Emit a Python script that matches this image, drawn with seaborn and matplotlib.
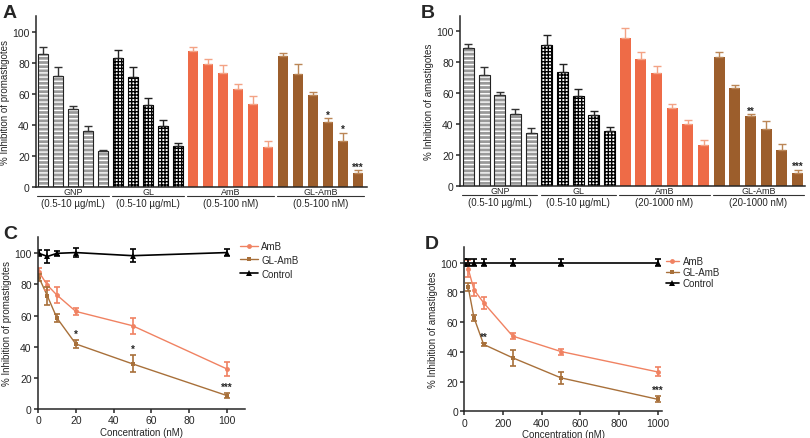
import numpy as np
import pandas as pd
import matplotlib
matplotlib.use("Agg")
import matplotlib.pyplot as plt
import matplotlib.transforms as mtransforms
import seaborn as sns

# ---- data: bar panels (A = promastigotes, B = amastigotes) ----
groups = ["GNP", "GL", "AmB", "GL-AmB"]
range_a = ["(0.5-10 µg/mL)", "(0.5-10 µg/mL)", "(0.5-100 nM)", "(0.5-100 nM)"]
range_b = ["(0.5-10 µg/mL)", "(0.5-10 µg/mL)", "(20-1000 nM)", "(20-1000 nM)"]

gnp_a = [85.5, 71.5, 50, 36, 23]
gnp_a_err = [4.5, 5.5, 2, 3, 0.6]
gl_a = [83, 71, 53, 39, 26.5]
gl_a_err = [5, 6, 4, 4.4, 2]
amb_a = [87.5, 79, 73.3, 63, 53.5, 25.8]
amb_a_err = [2.6, 3.5, 5, 3, 4.8, 3.9]
glamb_a = [84, 72.5, 59, 42, 29.5, 8.8]
glamb_a_err = [2, 6.9, 2.4, 2.5, 5.5, 2.2]
stars_a = ["", "", "", "*", "*", "***"]

gnp_b = [89, 72, 59, 46.7, 34.2]
gnp_b_err = [2.8, 5.2, 1.6, 3.2, 3.2]
gl_b = [91.2, 74, 58.5, 46.2, 35.3]
gl_b_err = [6.4, 4.7, 4.1, 2.2, 2.7]
amb_b = [96, 82, 73.3, 50.5, 40.2, 26.7]
amb_b_err = [6.4, 4.5, 4.3, 2.5, 2.6, 3.3]
glamb_b = [83.7, 63.4, 45.2, 36.6, 23, 8.2]
glamb_b_err = [2.8, 2.2, 1.3, 5.4, 4.3, 2.3]
stars_b = ["", "", "**", "", "", "***"]

# ---- data: dose-response panels ----
conc_c = [0.5, 5, 10, 20, 50, 100]
amb_c = [88, 79.5, 73.2, 62.7, 53.5, 25.7]
amb_c_err = [2.5, 3, 5, 2.3, 5, 4.3]
glamb_c = [84.5, 72.5, 58.5, 41.8, 29, 8.6]
glamb_c_err = [2, 6, 2.5, 2.5, 5.5, 1.5]
ctrl_c = [100, 98, 100, 100.5, 98.5, 100.5]
ctrl_c_err = [2, 4, 1.5, 3, 4, 2]
stars_c = ["", "", "", "*", "*", "***"]

conc_d = [20, 50, 100, 250, 500, 1000]
amb_d = [96, 81.8, 73, 50.6, 40.2, 26.5]
amb_d_err = [6, 4.5, 4, 2, 2, 3]
glamb_d = [83.6, 63, 45, 36, 22.5, 8.1]
glamb_d_err = [2.5, 2, 1, 5.5, 4, 2]
ctrl_conc_d = [0, 20, 50, 100, 250, 500, 1000]
ctrl_d = [100, 100, 100, 100, 100, 100, 100]
ctrl_d_err = [2.5, 2.5, 2.5, 2.5, 2.5, 2.5, 2.5]
stars_d = ["", "", "**", "", "", "***"]

# ---- style ----
sns.set_theme(style="ticks")
plt.rcParams["font.family"] = ["Liberation Sans", "DejaVu Sans"]
plt.rcParams["hatch.linewidth"] = 1.0
plt.rcParams["axes.linewidth"] = 1.1

c_amb = "#EE6B47"
c_glamb = "#9C5E2C"
c_amb_err = "#F3A385"
c_glamb_err = "#BB8656"
c_amb_line = "#F08262"
c_glamb_line = "#A8703A"
palette = {"GNP": "#9a9a9a", "GL": "white", "AmB": c_amb, "GL-AmB": c_glamb}
err_colors = {"GNP": "#333333", "GL": "#222222", "AmB": c_amb_err, "GL-AmB": c_glamb_err}

fig = plt.figure(figsize=(8.1, 4.39), dpi=100)


def px_axes(left, right, top, bottom):
    return fig.add_axes([left / 810, (439 - bottom) / 439,
                         (right - left) / 810, (bottom - top) / 439])


def bar_panel(ax, series, errs, stars, ranges, ylabel, xlim):
    vals, es, grp = [], [], []
    for g, v, e in zip(groups, series, errs):
        vals += v
        es += e
        grp += [g] * len(v)
    df = pd.DataFrame({"pos": range(len(vals)), "val": vals, "err": es, "group": grp})

    sns.barplot(data=df, x="pos", y="val", hue="group", palette=palette,
                dodge=False, width=0.7, errorbar=None, legend=False,
                saturation=1, ax=ax)

    for p in ax.patches:
        if p.get_height() == 0:
            continue
        idx = int(round(p.get_x() + p.get_width() / 2))
        g = df.loc[idx, "group"]
        if g == "GNP":
            p.set_facecolor("#9a9a9a")
            p.set_edgecolor("white")
            p.set_hatch("----")
            p.set_linewidth(0)
        elif g == "GL":
            p.set_facecolor("white")
            p.set_edgecolor("black")
            p.set_hatch("+++++")
            p.set_linewidth(0.8)
        else:
            p.set_edgecolor("none")
            p.set_linewidth(0)

    gnp = df[df.group == "GNP"]
    ax.bar(gnp.pos, gnp.val, width=0.7, fill=False, edgecolor="#222222", linewidth=0.8)

    for g in groups:
        sub = df[df.group == g]
        ax.errorbar(sub.pos, sub.val, yerr=[np.zeros(len(sub)), sub.err], fmt="none",
                    ecolor=err_colors[g], elinewidth=1.0, capsize=2.6, capthick=1.0, zorder=1)

    glamb = df[df.group == "GL-AmB"]
    for (x, v, e), s in zip(glamb[["pos", "val", "err"]].values, stars):
        if s:
            ax.text(x, v + e - 1.0, s, ha="center", va="bottom", fontsize=7, fontweight="bold")

    trans = mtransforms.blended_transform_factory(ax.transData, ax.transAxes)
    for g, r in zip(groups, ranges):
        sub = df[df.group == g]
        lo, hi = sub.pos.min(), sub.pos.max()
        mid = (lo + hi) / 2
        ax.plot([lo - 0.4, hi + 0.4], [-0.052, -0.052], color="#333333", lw=0.8,
                transform=trans, clip_on=False)
        ax.text(mid, -0.024, g, transform=trans, ha="center", va="center", fontsize=6.5)
        ax.text(mid, -0.094, r, transform=trans, ha="center", va="center", fontsize=7)

    ax.set_xlim(*xlim)
    ax.set_ylim(0, 110)
    ax.set_yticks([0, 20, 40, 60, 80, 100])
    ax.set_xticks([])
    ax.set_xlabel("")
    ax.set_ylabel(ylabel, fontsize=7, labelpad=2)
    ax.tick_params(axis="y", labelsize=7.5, length=3, width=1.1, pad=1.5)
    sns.despine(ax=ax)


def line_panel(ax, conc, amb, amb_e, glamb, glamb_e, cconc, ctrl, ctrl_e, stars,
               ylabel, xlim, xticks, legend_anchor, spacing, hlen):
    sns.lineplot(x=conc, y=amb, color=c_amb_line, marker="o", markersize=3.5,
                 markeredgewidth=0, linewidth=1.0, label="AmB", ax=ax)
    sns.lineplot(x=conc, y=glamb, color=c_glamb_line, marker="s", markersize=3.5,
                 markeredgewidth=0, linewidth=1.0, label="GL-AmB", ax=ax)
    sns.lineplot(x=cconc, y=ctrl, color="black", marker="^", markersize=4,
                 markeredgewidth=0, linewidth=1.2, label="Control", ax=ax)
    ax.errorbar(conc, amb, yerr=amb_e, fmt="none", ecolor=c_amb_line,
                elinewidth=1.2, capsize=2.5, capthick=1.2)
    ax.errorbar(conc, glamb, yerr=glamb_e, fmt="none", ecolor=c_glamb_line,
                elinewidth=1.2, capsize=2.5, capthick=1.2)
    ax.errorbar(cconc, ctrl, yerr=ctrl_e, fmt="none", ecolor="black",
                elinewidth=1.2, capsize=2.5, capthick=1.2)
    for x, v, e, s in zip(conc, glamb, glamb_e, stars):
        if s:
            ax.text(x, v + e + 1.0, s, ha="center", va="bottom", fontsize=7, fontweight="bold")

    ax.set_xlim(*xlim)
    ax.set_ylim(0, 110.5)
    ax.set_xticks(xticks)
    ax.set_yticks([0, 20, 40, 60, 80, 100])
    ax.set_xlabel("Concentration (nM)", fontsize=7, labelpad=1)
    ax.set_ylabel(ylabel, fontsize=7, labelpad=2)
    ax.tick_params(labelsize=7.5, length=3, width=1.1, pad=1.5)
    sns.despine(ax=ax)
    ax.legend(loc="upper left", bbox_to_anchor=legend_anchor, bbox_transform=fig.transFigure,
              frameon=False, fontsize=7, borderpad=0, borderaxespad=0,
              labelspacing=spacing, handlelength=hlen, handletextpad=0.4)


ax_a = px_axes(36, 367, 17, 188)
bar_panel(ax_a, [gnp_a, gl_a, amb_a, glamb_a],
          [gnp_a_err, gl_a_err, amb_a_err, glamb_a_err], stars_a, range_a,
          "% Inhibition of promastigotes", (-0.47, 21.6))

ax_b = px_axes(460, 805, 17, 187)
bar_panel(ax_b, [gnp_b, gl_b, amb_b, glamb_b],
          [gnp_b_err, gl_b_err, amb_b_err, glamb_b_err], stars_b, range_b,
          "% Inhibition of amastigotes", (-0.54, 21.47))

ax_c = px_axes(38, 245, 238, 410)
line_panel(ax_c, conc_c, amb_c, amb_c_err, glamb_c, glamb_c_err, conc_c, ctrl_c, ctrl_c_err,
           stars_c, "% Inhibition of promastigotes", (0, 109.5), [0, 20, 40, 60, 80, 100],
           (240 / 810, 1 - 242 / 439), 0.4, 1.8)

ax_d = px_axes(464.3, 662, 248, 412.3)
line_panel(ax_d, conc_d, amb_d, amb_d_err, glamb_d, glamb_d_err, ctrl_conc_d, ctrl_d, ctrl_d_err,
           stars_d, "% Inhibition of amastigotes", (0, 1023), [0, 200, 400, 600, 800, 1000],
           (666 / 810, 1 - 257 / 439), 0.1, 1.3)

for lab, x, y in [("A", 3, 5), ("B", 421, 5), ("C", 3, 226), ("D", 425, 236)]:
    fig.text(x / 810, 1 - y / 439, lab, fontsize=14, fontweight="bold", ha="left", va="top")

fig.savefig("out.png", dpi=100)
